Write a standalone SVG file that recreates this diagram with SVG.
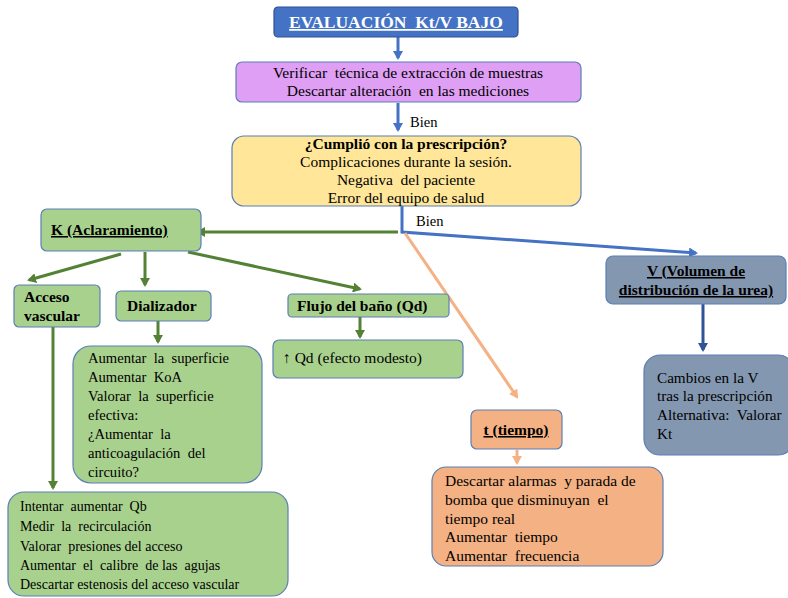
<svg xmlns="http://www.w3.org/2000/svg" width="788" height="598" viewBox="0 0 788 598">
<defs>
<marker id="ab" markerWidth="10" markerHeight="10" refX="7" refY="5" orient="auto" markerUnits="userSpaceOnUse"><path d="M0,0 L9,5 L0,10 Z" fill="#4472C4"/></marker>
<marker id="ad" markerWidth="10" markerHeight="10" refX="7" refY="5" orient="auto" markerUnits="userSpaceOnUse"><path d="M0,0 L9,5 L0,10 Z" fill="#2F5597"/></marker>
<marker id="ag" markerWidth="10" markerHeight="10" refX="7" refY="5" orient="auto" markerUnits="userSpaceOnUse"><path d="M0,0 L9,5 L0,10 Z" fill="#548235"/></marker>
<marker id="ao" markerWidth="10" markerHeight="10" refX="7" refY="5" orient="auto" markerUnits="userSpaceOnUse"><path d="M0,0 L9,5 L0,10 Z" fill="#F4B183"/></marker>
</defs>
<style>
text{font-family:"Liberation Serif","Times New Roman",serif;font-size:15.5px;fill:#000;white-space:pre}
.b{font-weight:bold}
.u{text-decoration:underline}
.c{text-anchor:middle}
.s14{font-size:14px}
.s146{font-size:14.6px}
.s15{font-size:15.2px}
.box{stroke:#5B7FB5;stroke-width:1.2}
.g{fill:#A9D18E}
.o{fill:#F4B183}
.v{fill:#8497B0}
.cb{stroke:#4472C4;stroke-width:3;fill:none}
.cg{stroke:#548235;stroke-width:3;fill:none}
.co{stroke:#F4B183;stroke-width:3;fill:none}
</style>
<rect width="788" height="598" fill="#fff"/>
<g id="connectors">
<line class="cb" x1="398" y1="37" x2="398" y2="58" marker-end="url(#ab)"/>
<line class="cb" x1="398" y1="103" x2="398" y2="130" marker-end="url(#ab)"/>
<polyline class="cb" points="402,206 402,232 696,253" marker-end="url(#ab)"/>
<line class="cg" x1="398" y1="232" x2="198" y2="232" marker-end="url(#ag)"/>
<line class="co" x1="405" y1="233" x2="517" y2="397" marker-end="url(#ao)"/>
<line class="cg" x1="121" y1="254" x2="29" y2="280" marker-end="url(#ag)"/>
<line class="cg" x1="145" y1="252" x2="145" y2="285" marker-end="url(#ag)"/>
<line class="cg" x1="188" y1="252" x2="360" y2="289" marker-end="url(#ag)"/>
<line class="cg" x1="158" y1="321" x2="158" y2="342" marker-end="url(#ag)"/>
<line class="cg" x1="360" y1="317" x2="360" y2="337" marker-end="url(#ag)"/>
<line class="cg" x1="53" y1="327" x2="53" y2="488" marker-end="url(#ag)"/>
<line class="co" x1="517" y1="450" x2="517" y2="463" marker-end="url(#ao)"/>
<line stroke="#2F5597" stroke-width="3" x1="703" y1="304" x2="703" y2="350" marker-end="url(#ad)"/>
<text x="410" y="127" style="font-size:14.5px">Bien</text>
<text x="416" y="226" style="font-size:14.5px">Bien</text>
</g>
<g id="title">
<rect x="274" y="7" width="244" height="30" rx="4" fill="#4472C4" stroke="#2F528F" stroke-width="1.2"/>
<text x="396" y="28" class="b u c" style="font-size:17.5px;fill:#fff">EVALUACIÓN  Kt/V BAJO</text>
</g>
<g id="verificar">
<rect x="236" y="62" width="345" height="40" rx="6" fill="#DF9FF4" stroke="#5B7FB5" stroke-width="1.2"/>
<text x="408" y="78" class="c">Verificar  técnica de extracción de muestras</text>
<text x="408" y="96" class="c">Descartar alteración  en las mediciones</text>
</g>
<g id="cumplio">
<rect x="232" y="136" width="349" height="70" rx="12" fill="#FFE699" stroke="#5B7FB5" stroke-width="1.2"/>
<text x="406" y="149" class="c b">¿Cumplió con la prescripción?</text>
<text x="406" y="167" class="c">Complicaciones durante la sesión.</text>
<text x="406" y="185" class="c">Negativa  del paciente</text>
<text x="406" y="203" class="c">Error del equipo de salud</text>
</g>
<g id="k">
<rect class="box g" x="41" y="209" width="160" height="42" rx="6"/>
<text x="51" y="235" class="b u">K (Aclaramiento)</text>
</g>
<g id="acceso">
<rect class="box g" x="14" y="285" width="86" height="42" rx="5"/>
<text x="24" y="302" class="b">Acceso</text>
<text x="24" y="321" class="b">vascular</text>
</g>
<g id="dializador">
<rect class="box g" x="116" y="291" width="95" height="30" rx="5"/>
<text x="127" y="311" class="b">Dializador</text>
</g>
<g id="flujo">
<rect class="box g" x="288" y="294" width="161" height="23" rx="4"/>
<text x="297" y="311" class="b">Flujo del baño (Qd)</text>
</g>
<g id="dializador-acciones">
<rect class="box g" x="73" y="346" width="189" height="137" rx="18"/>
<text x="88" y="363" class="s146">Aumentar  la  superficie</text>
<text x="88" y="382" class="s146">Aumentar  KoA</text>
<text x="88" y="401" class="s146">Valorar  la  superficie</text>
<text x="88" y="420" class="s146">efectiva:</text>
<text x="88" y="439" class="s146">¿Aumentar  la</text>
<text x="88" y="458" class="s146">anticoagulación  del</text>
<text x="88" y="477" class="s146">circuito?</text>
</g>
<g id="qd">
<rect class="box g" x="273" y="340" width="190" height="38" rx="6"/>
<text x="283" y="363">↑ Qd (efecto modesto)</text>
</g>
<g id="acceso-acciones">
<rect class="box g" x="8" y="492" width="280" height="104" rx="16"/>
<text x="20" y="511" class="s14">Intentar  aumentar  Qb</text>
<text x="20" y="531" class="s14">Medir  la  recirculación</text>
<text x="20" y="551" class="s14">Valorar  presiones del acceso</text>
<text x="20" y="570" class="s14">Aumentar  el  calibre  de las  agujas</text>
<text x="20" y="589" class="s14">Descartar estenosis del acceso vascular</text>
</g>
<g id="t">
<rect class="box o" x="471" y="410" width="91" height="39" rx="6"/>
<text x="516" y="435" class="b u c">t (tiempo)</text>
</g>
<g id="t-acciones">
<rect class="box o" x="432" y="467" width="231" height="99" rx="14"/>
<text x="445" y="486">Descartar alarmas  y parada de</text>
<text x="445" y="505">bomba que disminuyan  el</text>
<text x="445" y="524">tiempo real</text>
<text x="445" y="542">Aumentar  tiempo</text>
<text x="445" y="561">Aumentar  frecuencia</text>
</g>
<g id="v">
<rect class="box v" x="606" y="256" width="180" height="48" rx="7"/>
<text x="696" y="276" class="b u c">V (Volumen de</text>
<text x="696" y="295" class="b u c">distribución de la urea)</text>
</g>
<g id="v-acciones">
<rect class="box v" x="644" y="355" width="150" height="100" rx="16"/>
<text x="657" y="383" class="s15">Cambios en la V</text>
<text x="657" y="401" class="s15">tras la prescripción</text>
<text x="657" y="420" class="s15">Alternativa:  Valorar</text>
<text x="657" y="439" class="s15">Kt</text>
</g>
</svg>
